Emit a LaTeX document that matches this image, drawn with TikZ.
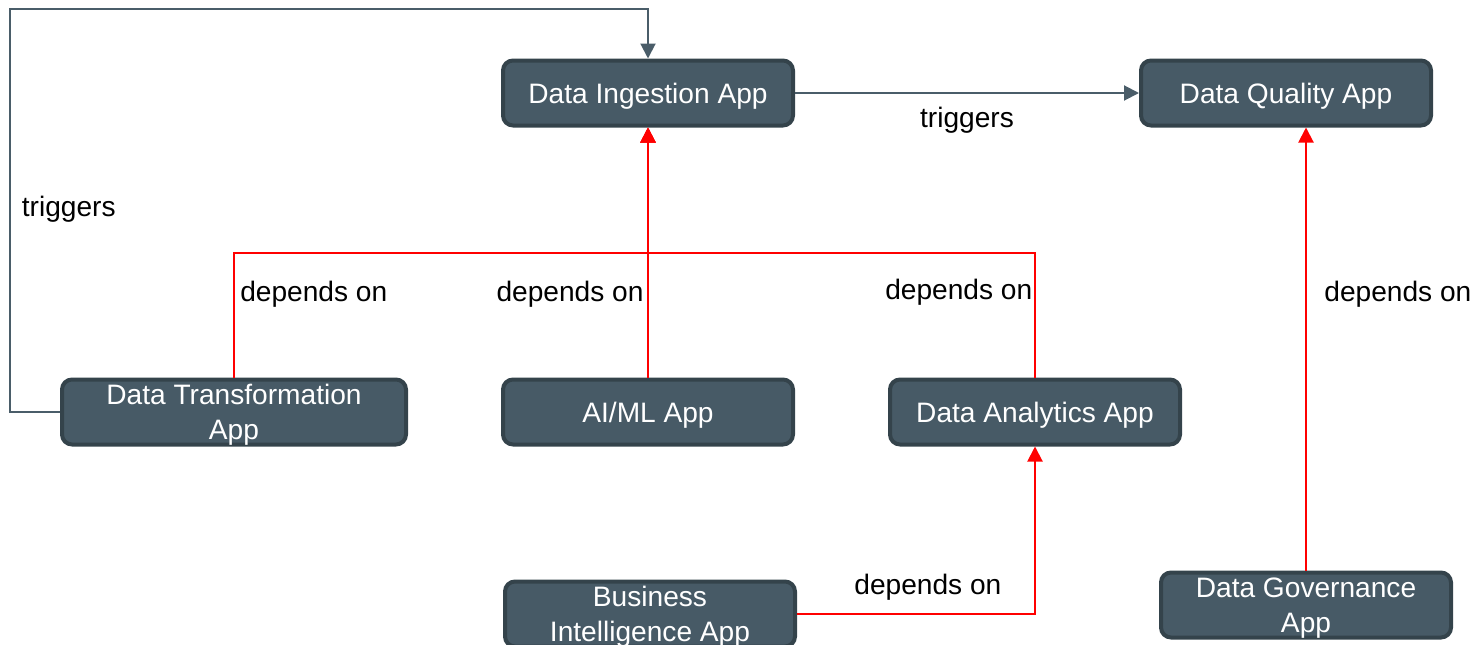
\documentclass[tikz,border=0pt]{standalone}
\usepackage{fontspec}
\setmainfont{Liberation Sans}
\usetikzlibrary{arrows.meta,positioning,calc}
\definecolor{appfill}{HTML}{475A66}
\definecolor{appline}{HTML}{34434B}
\definecolor{trgline}{HTML}{4A5D69}

\begin{document}
\begin{tikzpicture}[
  font=\fontsize{16}{20}\selectfont,%
  app/.style={rectangle,rounded corners=0.2cm,minimum width=5.8cm,minimum height=1.3cm,%
    inner ysep=1pt,text depth=0pt,align=center,fill=appfill,draw=appline,%
    line width=0.08cm,text=white,},%
  wide/.style={minimum width=6.88cm,},%
  dep/.style={-{Triangle[length=0.3cm,width=0.3cm]},line width=0.04cm,draw=red,},%
  trg/.style={-{Triangle[length=0.3cm,width=0.3cm]},line width=0.04cm,draw=trgline,},%
  lb/.style={text=black,},%
  ]
  \useasboundingbox (0,0) rectangle (29.58,-12.9);

  \node (ingest) [app] at (12.96,-1.86) {Data Ingestion App};
  \node (quality) [app,right=6.88cm of ingest] {Data Quality App};

  \node (aiml) [app,below=5cm of ingest] {AI/ML App};
  \node (trans) [app,wide,left=1.86cm of aiml] {Data Transformation\\App};
  \node (analytics) [app,right=1.86cm of aiml] {Data Analytics App};

  \node (bi) [app,below=2.66cm of aiml,xshift=0.04cm] {Business\\Intelligence App};
  \node (gov) [app,below=8.86cm of quality,xshift=0.4cm] {Data Governance\\App};

  \coordinate (jn) at ($(ingest.south)!0.5!(aiml.north)$);
  \coordinate (top) at ($(ingest.north)+(0,1)$);

  \draw [trg] (trans.west) -- ++(-1,0) |- node [lb,pos=0.254,right,xshift=0.1cm,yshift=-0.05cm] {triggers} (top)
    -- (ingest.north);
  \draw [trg] (ingest) -- node [lb,below,yshift=-0.15cm] {triggers} (quality);

  \draw [dep] (trans.north) |- node [lb,pos=0.344,right,inner xsep=3pt,yshift=-0.05cm] {depends on} (jn)
    -- (ingest.south);
  \draw [dep] (aiml) -- node [lb,pos=0.344,left,inner xsep=2pt,yshift=-0.05cm] {depends on} (ingest);
  \draw [dep] (analytics.north) |- node [lb,pos=0.35,left,inner xsep=1pt,yshift=-0.05cm] {depends on} (jn)
    -- (ingest.south);
  \draw [dep] (bi.east) -| node [lb,pos=0.275,above,yshift=0.13cm] {depends on} (analytics.south);
  \draw [dep] (gov.north) -- node [lb,pos=0.63,right,xshift=0.23cm,yshift=-0.05cm] {depends on}
    (gov.north |- quality.south);
\end{tikzpicture}
\end{document}
